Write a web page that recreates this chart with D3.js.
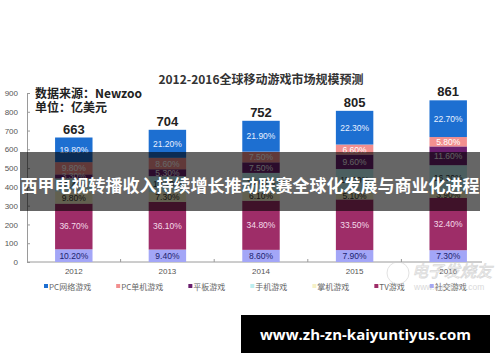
<!DOCTYPE html>
<html><head><meta charset="utf-8">
<script src="https://cdn.jsdelivr.net/npm/d3@7"></script>
<style>html,body{margin:0;padding:0;background:#fff}svg{display:block}</style>
</head><body>
<svg id="c" width="500" height="362"></svg>
<script>
const years = ["2012","2013","2014","2015","2016"];
const totals = [663,704,752,805,861];
// share of each segment (%), stack order bottom → top
const social   = [10.2, 9.4, 8.6, 7.9, 7.3];
const tv       = [36.7,36.1,34.8,33.5,32.4];
const handheld = [9.8, 7.3, 6.1, 5.1, 3.9];
const mobile   = [10.4,12.1,13.6,15.0,16.3];
const tablet   = [3.3, 5.3, 7.5, 9.6,11.6];
const pcSingle = [9.8, 8.6, 7.5, 6.6, 5.8];
const pcOnline = [19.8,21.2,21.9,22.3,22.7];
const yTicks = [0,100,200,300,400,500,600,700,800,900];
const legendNames = ["PC网络游戏","PC单机游戏","平板游戏","手机游戏","掌机游戏","TV游戏","社交游戏"];
const title = "2012-2016全球移动游戏市场规模预测";
const sourceLines = ["数据来源：Newzoo","单位：亿美元"];
const bannerText = "西甲电视转播收入持续增长推动联赛全球化发展与商业化进程";
const footerText = "www.zh-zn-kaiyuntiyus.com";

const series = [
  {key:"社交游戏", vals:social,   color:"#a3a6f7", text:"#1c1f6e"},
  {key:"TV游戏",   vals:tv,       color:"#9e2d68", text:"#f4dce8"},
  {key:"掌机游戏", vals:handheld, color:"#f6f1c6", text:"#333"},
  {key:"手机游戏", vals:mobile,   color:"#bdeef0", text:"#333"},
  {key:"平板游戏", vals:tablet,   color:"#6b1f6e", text:"#eee"},
  {key:"PC单机游戏", vals:pcSingle, color:"#f28f8f", text:"#fff"},
  {key:"PC网络游戏", vals:pcOnline, color:"#1d6fd1", text:"#e8f0ff"}
];

const svg = d3.select("#c");
const x = d3.scaleBand().domain(years).range([27,495]).paddingInner(0.6).paddingOuter(0.3);
const y = d3.scaleLinear().domain([0,900]).range([262,93]);

// stack data in value units
const rows = years.map((yr,i)=>{
  const r = {year:yr};
  series.forEach(s=>{ r[s.key] = s.vals[i]*totals[i]/100; });
  return r;
});
const stack = d3.stack().keys(series.map(s=>s.key))(rows);

// axes
const yAxis = d3.axisLeft(y).tickValues(yTicks).tickSize(-3).tickPadding(9);
const gy = svg.append("g").attr("transform","translate(27,0)").call(yAxis);
gy.select(".domain").attr("stroke","#9a9a9a");
gy.selectAll(".tick line").attr("stroke","#9a9a9a");
gy.selectAll("text").attr("fill","#555").attr("font-size",8).attr("font-family","Liberation Sans, Arial, sans-serif");

const gx = svg.append("g").attr("transform","translate(0,262)");
gx.append("line").attr("x1",27).attr("x2",482).attr("stroke","#9a9a9a");
const step = x.step();
gx.selectAll("line.b").data(years.slice(1)).join("line").attr("class","b")
  .attr("x1",d=>x(d)-x.paddingInner()*step/2).attr("x2",d=>x(d)-x.paddingInner()*step/2)
  .attr("y1",0).attr("y2",-3).attr("stroke","#9a9a9a");
gx.selectAll("text").data(years).join("text")
  .attr("x",d=>x(d)+x.bandwidth()/2).attr("y",12).attr("text-anchor","middle")
  .attr("fill","#555").attr("font-size",8).attr("font-family","Liberation Sans, Arial, sans-serif").text(d=>d);

// bars
const layers = svg.append("g").selectAll("g").data(stack).join("g")
  .attr("fill",(d,i)=>series[i].color);
layers.selectAll("rect").data(d=>d).join("rect")
  .attr("x",d=>x(d.data.year)).attr("width",x.bandwidth())
  .attr("y",d=>y(d[1])).attr("height",d=>y(d[0])-y(d[1]));

// segment labels
svg.append("g").selectAll("g").data(stack).join("g").each(function(layer,li){
  d3.select(this).selectAll("text").data(layer).join("text")
    .attr("x",d=>x(d.data.year)+x.bandwidth()/2)
    .attr("y",d=>(y(d[0])+y(d[1]))/2+3)
    .attr("text-anchor","middle").attr("font-size",8.5)
    .attr("font-family","Liberation Sans, Arial, sans-serif")
    .attr("fill",series[li].text)
    .text((d,i)=>series[li].vals[i].toFixed(2)+"%");
});

// totals
svg.append("g").selectAll("text").data(years).join("text")
  .attr("x",d=>x(d)+x.bandwidth()/2).attr("y",(d,i)=>y(totals[i])-4)
  .attr("text-anchor","middle").attr("font-size",13).attr("font-weight","bold")
  .attr("font-family","Liberation Sans, Arial, sans-serif").attr("fill","#222")
  .text((d,i)=>totals[i]);

// title & source
svg.append("text").attr("x",261).attr("y",84).attr("text-anchor","middle")
  .attr("font-size",12).attr("font-weight","bold").attr("fill","#333")
  .attr("font-family","Noto Sans CJK SC, sans-serif").text(title);
svg.append("g").selectAll("text").data(sourceLines).join("text")
  .attr("x",35).attr("y",(d,i)=>98+i*14).attr("font-size",12).attr("font-weight","bold")
  .attr("fill","#222").attr("font-family","Noto Sans CJK SC, sans-serif").text(d=>d);

// legend
const lg = svg.append("g").attr("transform","translate(44,287)");
let lx = 0;
legendNames.forEach(name=>{
  const s = series.find(q=>q.key===name);
  const g = lg.append("g").attr("transform",`translate(${lx},0)`);
  g.append("rect").attr("x",0).attr("y",-3).attr("width",4).attr("height",4).attr("fill",s.color);
  const t = g.append("text").attr("x",5).attr("y",3).attr("font-size",8).attr("fill","#666")
    .attr("font-family","Noto Sans CJK SC, sans-serif").text(name);
  lx += 5 + t.node().getComputedTextLength() + 25;
});

// watermark
const wm = svg.append("g").attr("opacity",0.55);
wm.append("circle").attr("cx",398).attr("cy",273).attr("r",11).attr("fill","none").attr("stroke","#ccc").attr("stroke-width",1);
wm.append("text").attr("x",412).attr("y",277).attr("font-size",16).attr("font-style","italic")
  .attr("fill","#fff").attr("stroke","#bbb").attr("stroke-width",0.8)
  .attr("font-family","Noto Sans CJK SC, sans-serif").text("电子发烧友");
wm.append("text").attr("x",414).attr("y",290).attr("font-size",8.5).attr("fill","#bbb")
  .attr("font-family","Liberation Sans, Arial, sans-serif").text("www.elecfans.com");

// banner overlay
svg.append("rect").attr("x",20).attr("y",152).attr("width",460).attr("height",59)
  .attr("fill","#000").attr("fill-opacity",0.6);
svg.append("text").attr("x",250).attr("y",192).attr("text-anchor","middle")
  .attr("font-size",17).attr("font-weight","bold").attr("fill","#fff")
  .attr("font-family","Noto Sans CJK SC, sans-serif").text(bannerText);

// footer box
svg.append("rect").attr("x",241).attr("y",315).attr("width",249).attr("height",38).attr("fill","#000");
svg.append("text").attr("x",365.5).attr("y",339.5).attr("text-anchor","middle")
  .attr("font-size",15).attr("font-weight","bold").attr("fill","#fff")
  .attr("font-family","Open Sans, sans-serif").text(footerText);
</script>
</body></html>
